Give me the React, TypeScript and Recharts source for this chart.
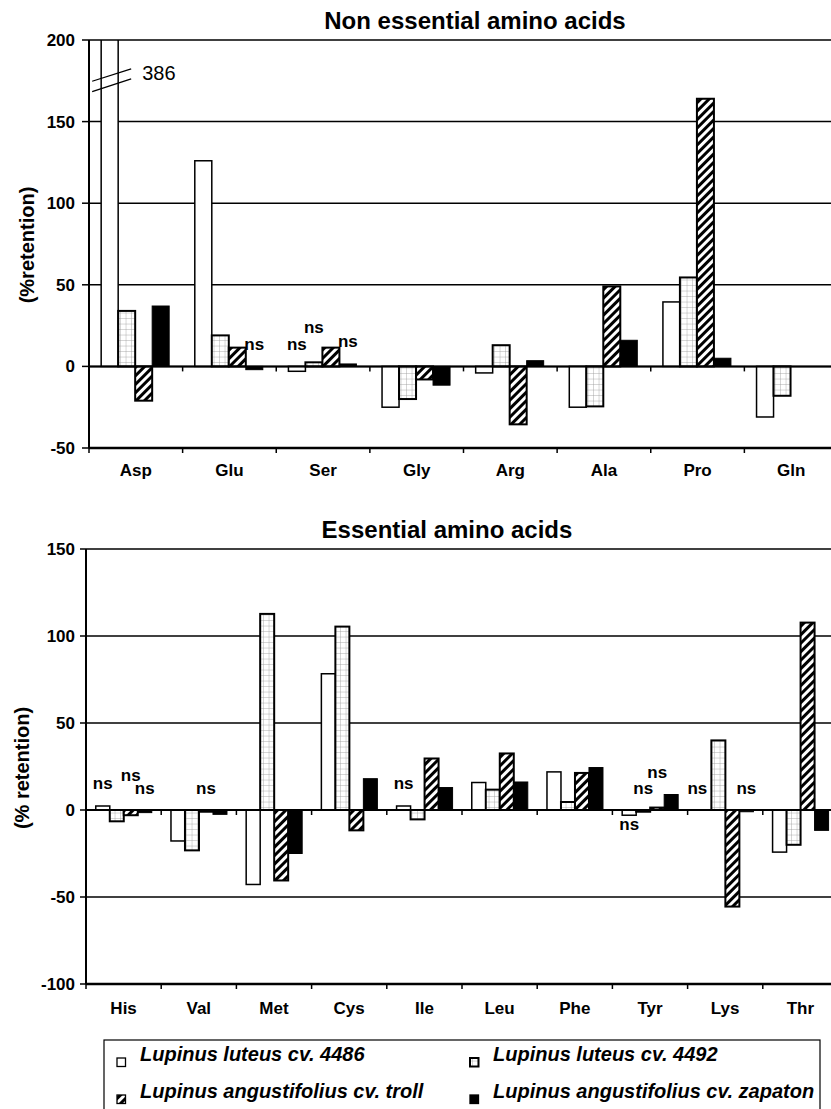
import React from 'react';
import { BarChart, Bar, XAxis, YAxis, CartesianGrid, ReferenceLine } from 'recharts';

const FONT = '"Liberation Sans", Arial, Helvetica, sans-serif';

const seriesNames = [
  'Lupinus luteus cv. 4486',
  'Lupinus luteus cv. 4492',
  'Lupinus angustifolius cv. troll',
  'Lupinus angustifolius cv. zapaton',
];

// Non essential amino acids
const nonEssCategories = ['Asp', 'Glu', 'Ser', 'Gly', 'Arg', 'Ala', 'Pro', 'Gln'];
const nonEssLuteus4486 = [386, 126, -3, -25, -4, -25, 39.5, -31];
const nonEssLuteus4492 = [34, 19, 2.5, -20, 13, -24.5, 54.5, -18];
const nonEssTroll = [-21, 11.5, 11.5, -8, -35.5, 49, 164, 0];
const nonEssZapaton = [37, -2, 1.5, -11.5, 3.5, 16, 5, 0];
const nonEssNs4486 = ['', '', 'above', '', '', '', '', ''];
const nonEssNs4492 = ['', '', 'above', '', '', '', '', ''];
const nonEssNsTroll = ['', '', '', '', '', '', '', ''];
const nonEssNsZapaton = ['', 'above', 'above', '', '', '', '', ''];
const nonEssTicks = [-50, 0, 50, 100, 150, 200];

// Essential amino acids
const essCategories = ['His', 'Val', 'Met', 'Cys', 'Ile', 'Leu', 'Phe', 'Tyr', 'Lys', 'Thr'];
const essLuteus4486 = [2.3, -17.8, -42.8, 78.3, 2.3, 15.8, 21.9, -3, 0, -24.2];
const essLuteus4492 = [-6.5, -23.2, 112.7, 105.4, -5.4, 11.7, 4.6, -1, 40, -20];
const essTroll = [-3, -1, -40.5, -11.7, 29.6, 32.5, 21.3, 1.4, -55.5, 107.7];
const essZapaton = [-1.5, -2.5, -25, 18, 12.9, 16.1, 24.4, 8.9, -1, -11.7];
const essNs4486 = ['above', '', '', '', 'above', '', '', 'below', 'above', ''];
const essNs4492 = ['', '', '', '', '', '', '', 'above', '', ''];
const essNsTroll = ['above', 'above', '', '', '', '', '', 'above', '', ''];
const essNsZapaton = ['above', '', '', '', '', '', '', '', 'above', ''];
const essTicks = [-100, -50, 0, 50, 100, 150];

const seriesStyles = [
  { fill: '#ffffff', stroke: '#000', sw: 1.5 },
  { fill: 'url(#gridPat)', stroke: '#000', sw: 2 },
  { fill: 'url(#hatchPat)', stroke: '#000', sw: 2 },
  { fill: '#000000', stroke: '#000', sw: 1 },
];

const central = (i: number) => i === 1 || i === 2;
function isRaised(flags: string[], i: number) {
  for (const j of [i - 1, i + 1]) {
    if (j < 0 || j > 3) continue;
    if (flags[j] !== 'above') continue;
    if (central(i) && !central(j)) return true;
    if (central(i) && central(j) && i > j) return true;
  }
  return false;
}

const makeShape = (si: number, yMax: number) => (props: any) => {
  const { x, y, width, height, payload } = props;
  const v = payload[`s${si}`];
  const st = seriesStyles[si];
  let top = Math.min(y, y + height);
  const bottom = Math.max(y, y + height);
  let extra: any = null;
  if (v > yMax) {
    const zeroY = bottom;
    const ppu = (bottom - top) / v;
    top = zeroY - yMax * ppu;
    const breakY = zeroY - yMax * 0.877 * ppu;
    extra = (
      <g>
        <line x1={x - 9} y1={breakY + 11.4} x2={x + width + 13} y2={breakY - 1.3} stroke="#000" strokeWidth={1.3} />
        <line x1={x - 9} y1={breakY + 1.1} x2={x + width + 13} y2={breakY - 11.3} stroke="#000" strokeWidth={1.3} />
        <text x={x + width + 24} y={breakY} fontFamily={FONT} fontSize={20} fill="#000">
          {String(v)}
        </text>
      </g>
    );
  }
  const h = bottom - top;
  const flags = [payload.n0, payload.n1, payload.n2, payload.n3];
  const f = flags[si];
  // a label over an empty (zero) bar sits over the left edge of its slot
  const lx = h > 0.3 ? x + width / 2 : x;
  let label: any = null;
  if (f === 'above') {
    const ly = top - 16.5 - (isRaised(flags, si) ? 13 : 0);
    label = (
      <text x={lx} y={ly} textAnchor="middle" fontFamily={FONT} fontSize={17} fontWeight={700} fill="#000">
        ns
      </text>
    );
  } else if (f === 'below') {
    label = (
      <text x={lx} y={bottom + 14.5} textAnchor="middle" fontFamily={FONT} fontSize={17} fontWeight={700} fill="#000">
        ns
      </text>
    );
  }
  return (
    <g>
      {h > 0.3 && (
        <rect x={x} y={top} width={width} height={h} fill={st.fill} stroke={st.stroke} strokeWidth={st.sw} />
      )}
      {extra}
      {label}
    </g>
  );
};

const makeCatTick = (bandWidth: number, labelDy: number) => (props: any) => {
  const { x, y, payload } = props;
  const bx = x - bandWidth / 2;
  return (
    <g>
      <line x1={bx} x2={bx} y1={y} y2={y + 5} stroke="#000" strokeWidth={1.5} />
      <text x={x} y={y + labelDy} textAnchor="middle" fontFamily={FONT} fontSize={17} fontWeight={700} fill="#000">
        {payload.value}
      </text>
    </g>
  );
};

const makeZeroShape = (n: number) => (props: any) => {
  const { x1, x2, y1 } = props;
  const step = (x2 - x1) / n;
  const ticks = [];
  for (let i = 1; i <= n; i++) {
    ticks.push(<line key={i} x1={x1 + i * step} x2={x1 + i * step} y1={y1} y2={y1 + 5} stroke="#000" strokeWidth={1.5} />);
  }
  return (
    <g>
      <line x1={x1} x2={x2} y1={y1} y2={y1} stroke="#000" strokeWidth={2} />
      {ticks}
    </g>
  );
};

interface ChartProps {
  categories: string[];
  series: number[][];
  ns: string[][];
  ticks: number[];
  width: number;
  height: number;
  marginTop: number;
  marginRight: number;
  marginBottom: number;
  yAxisWidth: number;
  xAxisHeight: number;
  labelDy: number;
  tickSize: number;
  tickMargin: number;
}

function AminoChart(p: ChartProps) {
  const data = p.categories.map((c, i) => ({
    cat: c,
    s0: p.series[0][i],
    s1: p.series[1][i],
    s2: p.series[2][i],
    s3: p.series[3][i],
    n0: p.ns[0][i],
    n1: p.ns[1][i],
    n2: p.ns[2][i],
    n3: p.ns[3][i],
  }));
  const yMin = p.ticks[0];
  const yMax = p.ticks[p.ticks.length - 1];
  const plotWidth = p.width - p.yAxisWidth - p.marginRight;
  const bw = plotWidth / p.categories.length;
  return (
    <BarChart
      width={p.width}
      height={p.height}
      data={data}
      margin={{ top: p.marginTop, right: p.marginRight, left: 0, bottom: p.marginBottom }}
      barCategoryGap="13%"
      barGap={0}
    >
      <CartesianGrid vertical={false} stroke="#000" strokeWidth={1.5} />
      <XAxis
        dataKey="cat"
        height={p.xAxisHeight}
        axisLine={{ stroke: '#000', strokeWidth: 2.5 }}
        tickLine={false}
        tickSize={0}
        tickMargin={0}
        interval={0}
        tick={makeCatTick(bw, p.labelDy)}
      />
      <YAxis
        type="number"
        domain={[yMin, yMax]}
        ticks={p.ticks}
        allowDataOverflow
        width={p.yAxisWidth}
        axisLine={{ stroke: '#000', strokeWidth: 2 }}
        tickLine={{ stroke: '#000', strokeWidth: 1.5 }}
        tickSize={p.tickSize}
        tickMargin={p.tickMargin}
        tick={{ fontFamily: FONT, fontSize: 17, fontWeight: 700, fill: '#000' }}
      />
      {[0, 1, 2, 3].map((si) => (
        <Bar
          key={si}
          dataKey={`s${si}`}
          name={seriesNames[si]}
          isAnimationActive={false}
          shape={makeShape(si, yMax)}
        />
      ))}
      <ReferenceLine y={0} shape={makeZeroShape(p.categories.length)} />
    </BarChart>
  );
}

function LegendMarker({ si, x, y }: { si: number; x: number; y: number }) {
  const st = seriesStyles[si];
  return <rect x={x} y={y} width={8.5} height={8.5} fill={st.fill} stroke="#000" strokeWidth={si === 1 ? 2 : 1.3} />;
}

export default function App() {
  return (
    <div
      style={{
        position: 'absolute',
        left: 0,
        top: 0,
        width: 831,
        height: 1109,
        overflow: 'hidden',
        background: '#fff',
      }}
    >
      <svg width={0} height={0} style={{ position: 'absolute' }}>
        <defs>
          <pattern id="gridPat" width={5.5} height={5.5} patternUnits="userSpaceOnUse">
            <rect width={5.5} height={5.5} fill="#fff" />
            <path d="M5.5 0V5.5M0 5.5H5.5" stroke="#9a9a9a" strokeWidth={0.8} fill="none" />
          </pattern>
          <pattern id="hatchPat" width={6} height={6} patternUnits="userSpaceOnUse" patternTransform="rotate(45)">
            <rect width={6} height={6} fill="#fff" />
            <rect width={3} height={6} fill="#000" />
          </pattern>
        </defs>
      </svg>
      <div style={{ position: 'absolute', left: 0, top: 0 }}>
        <AminoChart
          categories={nonEssCategories}
          series={[nonEssLuteus4486, nonEssLuteus4492, nonEssTroll, nonEssZapaton]}
          ns={[nonEssNs4486, nonEssNs4492, nonEssNsTroll, nonEssNsZapaton]}
          ticks={nonEssTicks}
          width={845}
          height={490}
          marginTop={40}
          marginRight={7}
          marginBottom={10}
          yAxisWidth={89}
          xAxisHeight={32}
          labelDy={27.5}
          tickSize={7}
          tickMargin={7}
        />
      </div>
      <div style={{ position: 'absolute', left: 0, top: 500 }}>
        <AminoChart
          categories={essCategories}
          series={[essLuteus4486, essLuteus4492, essTroll, essZapaton]}
          ns={[essNs4486, essNs4492, essNsTroll, essNsZapaton]}
          ticks={essTicks}
          width={845}
          height={526}
          marginTop={49}
          marginRight={7}
          marginBottom={12}
          yAxisWidth={86}
          xAxisHeight={30}
          labelDy={30}
          tickSize={6}
          tickMargin={5}
        />
      </div>
      <svg
        width={831}
        height={1109}
        style={{ position: 'absolute', left: 0, top: 0, pointerEvents: 'none' }}
      >
        <text x={475} y={29} textAnchor="middle" fontFamily={FONT} fontSize={24} fontWeight={700} fill="#000">
          Non essential amino acids
        </text>
        <text x={447} y={538} textAnchor="middle" fontFamily={FONT} fontSize={24} fontWeight={700} fill="#000">
          Essential amino acids
        </text>
        <text
          x={27}
          y={245}
          transform="rotate(-90 27 245)"
          textAnchor="middle"
          dominantBaseline="central"
          fontFamily={FONT}
          fontSize={20}
          fontWeight={700}
          fill="#000"
        >
          (%retention)
        </text>
        <text
          x={22}
          y={768}
          transform="rotate(-90 22 768)"
          textAnchor="middle"
          dominantBaseline="central"
          fontFamily={FONT}
          fontSize={20}
          fontWeight={700}
          fill="#000"
        >
          (% retention)
        </text>
        <rect x={104} y={1040} width={716} height={90} fill="#fff" stroke="#000" strokeWidth={1.2} />
        {seriesNames.map((name, si) => {
          const col = si % 2;
          const row = Math.floor(si / 2);
          const mx = col === 0 ? 117 : 470;
          const baseline = row === 0 ? 1061 : 1098;
          return (
            <g key={name}>
              <LegendMarker si={si} x={mx} y={baseline - 3} />
              <text
                x={mx + 23}
                y={baseline}
                fontFamily={FONT}
                fontSize={20}
                fontWeight={700}
                fontStyle="italic"
                fill="#000"
              >
                {name}
              </text>
            </g>
          );
        })}
      </svg>
    </div>
  );
}
